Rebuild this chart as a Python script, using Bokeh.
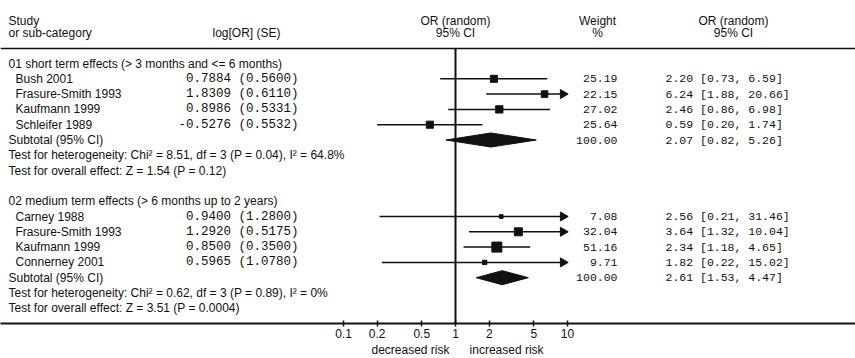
import math
from bokeh.plotting import figure
from bokeh.models import Range1d, FixedTicker, CustomJSTickFormatter, Title, LinearScale
from bokeh.core.properties import value
from bokeh.embed import file_html
from bokeh.resources import INLINE

# ---------------- data ----------------
group1_title = "01 short term effects (> 3 months and <= 6 months)"
studies1 = ["Bush 2001", "Frasure-Smith 1993", "Kaufmann 1999", "Schleifer 1989"]
logor1 = [0.7884, 1.8309, 0.8986, -0.5276]
se1 = [0.5600, 0.6110, 0.5331, 0.5532]
weight1 = [25.19, 22.15, 27.02, 25.64]
or1 = [2.20, 6.24, 2.46, 0.59]
lo1 = [0.73, 1.88, 0.86, 0.20]
hi1 = [6.59, 20.66, 6.98, 1.74]
sub1 = [2.07, 0.82, 5.26]
het1 = "Test for heterogeneity: Chi\u00b2 = 8.51, df = 3 (P = 0.04), I\u00b2 = 64.8%"
ovr1 = "Test for overall effect: Z = 1.54 (P = 0.12)"

group2_title = "02 medium term effects (> 6 months up to 2 years)"
studies2 = ["Carney 1988", "Frasure-Smith 1993", "Kaufmann 1999", "Connerney 2001"]
logor2 = [0.9400, 1.2920, 0.8500, 0.5965]
se2 = [1.2800, 0.5175, 0.3500, 1.0780]
weight2 = [7.08, 32.04, 51.16, 9.71]
or2 = [2.56, 3.64, 2.34, 1.82]
lo2 = [0.21, 1.32, 1.18, 0.22]
hi2 = [31.46, 10.04, 4.65, 15.02]
sub2 = [2.61, 1.53, 4.47]
het2 = "Test for heterogeneity: Chi\u00b2 = 0.62, df = 3 (P = 0.89), I\u00b2 = 0%"
ovr2 = "Test for overall effect: Z = 3.51 (P = 0.0004)"

tick_vals = [0.1, 0.2, 0.5, 1, 2, 5, 10]
axis_max = 10
axis_caption = "decreased risk" + "\u00a0" * 6 + "increased risk"

# ---------------- layout helpers ----------------
W, H = 855, 358
AXIS_Y = 323
PX1 = 112.0      # pixels per decade
X_ONE = 455.0    # pixel of OR = 1
ROW0, ROWH = 63.0, 15.3

def or_at(px):
    return 10 ** ((px - X_ONE) / PX1)

SANS = value("Liberation Sans")
MONO = value("Liberation Mono")
FS = "12px"
INK = "#111111"

p = figure(width=W, height=H, output_backend="svg", toolbar_location=None,
           x_axis_type="log", x_range=Range1d(or_at(0), or_at(W)),
           y_range=Range1d((AXIS_Y - ROW0) / ROWH, (0 - ROW0) / ROWH),
           y_axis_location=None, min_border_left=0, min_border_right=0,
           min_border_top=0, min_border_bottom=H - AXIS_Y)
p.extra_x_ranges = {"px": Range1d(0, W)}
p.extra_x_scales = {"px": LinearScale()}
p.extra_y_ranges = {"py": Range1d(AXIS_Y, 0)}
p.extra_y_scales = {"py": LinearScale()}
p.grid.visible = False
p.outline_line_color = None
p.background_fill_color = "white"
p.border_fill_color = "white"

ax = p.xaxis[0]
ax.ticker = FixedTicker(ticks=tick_vals, minor_ticks=[])
ax.formatter = CustomJSTickFormatter(code="return String(parseFloat(tick.toPrecision(6)));")
ax.axis_line_width = 1.8
ax.axis_line_color = INK
ax.major_tick_in = 3
ax.major_tick_out = 3
ax.major_tick_line_width = 1.5
ax.major_tick_line_color = INK
ax.major_label_standoff = 2
ax.major_label_text_font = "Liberation Sans"
ax.major_label_text_font_size = "12px"
ax.major_label_text_color = INK

p.add_layout(Title(text=axis_caption, align="left", offset=371, standoff=0,
                   text_font="Liberation Sans", text_font_size="12px",
                   text_font_style="normal", text_color=INK), "below")

def txt(x, y, t, align="left", font=SANS, size=FS, yr="default"):
    kw = dict(x=x, y=y, text=t, x_range_name="px", text_font=font, text_font_size=size,
              text_align=align, text_baseline="middle", text_color=INK)
    if yr != "default":
        kw["y_range_name"] = yr
    p.text(**kw)

# header
txt([8, 8], [20, 32.5], ["Study", "or sub-category"], yr="py")
txt([246], [32.5], ["log[OR] (SE)"], align="center", yr="py")
txt([455, 455], [20, 32.5], ["OR (random)", "95% CI"], align="center", yr="py")
txt([597, 597], [20, 32.5], ["Weight", "%"], align="center", yr="py")
txt([733, 733], [20, 32.5], ["OR (random)", "95% CI"], align="center", yr="py")
p.segment(x0=[0], y0=[48], x1=[W], y1=[48], x_range_name="px", y_range_name="py",
          line_width=1.5, line_color=INK)
p.segment(x0=[1], y0=[48], x1=[1], y1=[AXIS_Y], y_range_name="py", line_width=2, line_color=INK)

def group(start, title, studies, logor, se, weight, est, lo, hi, sub, het, ovr):
    rows = [start + 1 + i for i in range(len(studies))]
    srow = rows[-1] + 1
    txt([8], [start], [title])
    txt([15] * len(studies), rows, studies)
    txt([298] * len(studies), rows, [f"{a:.4f} ({b:.4f})" for a, b in zip(logor, se)],
        align="right", font=MONO, size="12.5px")
    txt([617] * (len(studies) + 1), rows + [srow], [f"{w:.2f}" for w in weight] + ["100.00"],
        align="right", font=MONO, size="11.5px")
    txt([665] * (len(studies) + 1), rows + [srow],
        [f"{e:.2f} [{l:.2f}, {h:.2f}]" for e, l, h in zip(est, lo, hi)] +
        [f"{sub[0]:.2f} [{sub[1]:.2f}, {sub[2]:.2f}]"], font=MONO, size="11.5px")
    txt([8, 8, 8], [srow, srow + 1, srow + 2], ["Subtotal (95% CI)", het, ovr])
    # CI lines
    arrow_tip = axis_max * 10 ** (-4.5 / PX1)
    x1 = [h if h <= axis_max else arrow_tip for h in hi]
    p.segment(x0=lo, y0=rows, x1=x1, y1=rows, line_width=1.5, line_color=INK)
    ar = [r for r, h in zip(rows, hi) if h > axis_max]
    if ar:
        p.scatter(x=[arrow_tip] * len(ar), y=ar, marker="triangle", size=9,
                  angle=-math.pi / 2, color=INK)
    p.scatter(x=est, y=rows, marker="square", size=[1.4 * math.sqrt(w) for w in weight],
              color=INK)
    p.patches(xs=[[sub[1], sub[0], sub[2], sub[0]]],
              ys=[[srow, srow - 0.46, srow, srow + 0.46]], color=INK)

group(0, group1_title, studies1, logor1, se1, weight1, or1, lo1, hi1, sub1, het1, ovr1)
group(9, group2_title, studies2, logor2, se2, weight2, or2, lo2, hi2, sub2, het2, ovr2)

open("out.html", "w").write(file_html(p, INLINE))
